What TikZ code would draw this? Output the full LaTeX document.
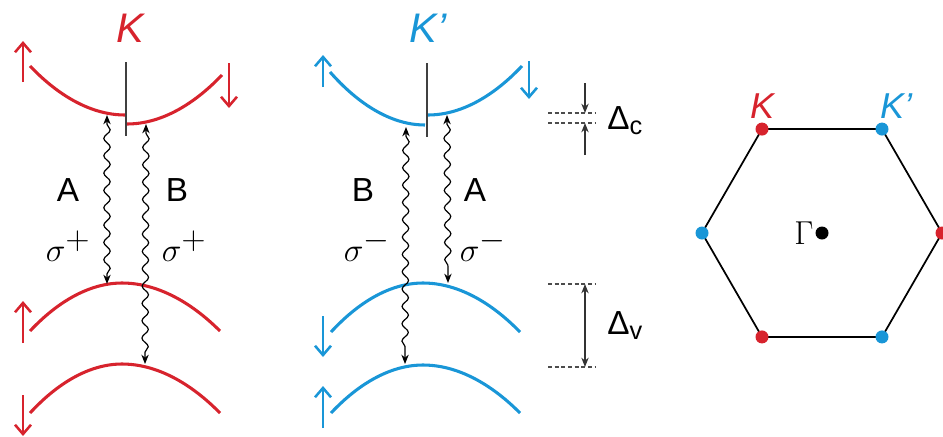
\documentclass[tikz,border=0pt]{standalone}
\usepackage[no-math]{fontspec}
\setmainfont{Liberation Sans}
\usetikzlibrary{arrows.meta,decorations.pathmorphing}
\definecolor{kred}{RGB}{215,35,45}
\definecolor{kblue}{RGB}{25,150,215}

\begin{document}
\begin{tikzpicture}[x=0.75pt,y=-0.75pt,
  band/.style={line width=2.3pt},
  spin/.style={line width=1.9pt,-{Straight Barb[length=7pt,width=12pt]}},
  wave/.style={line width=0.9pt,{Stealth[length=7pt,width=5.5pt]}-{Stealth[length=7pt,width=5.5pt]},
    decorate,decoration={snake,amplitude=2.4pt,segment length=13pt,pre length=7pt,post length=7pt}},
  gap/.style={line width=1pt,black!80},
  guide/.style={line width=0.8pt,black!70,dash pattern=on 3pt off 2pt},
  big/.style={font=\fontsize{25}{28}\selectfont},
  sig/.style={font=\fontsize{33}{38}\selectfont},
  valley/.style={font=\fontsize{31}{34}\selectfont\itshape},
  corner/.style={font=\fontsize{27}{30}\selectfont\itshape}]
  \useasboundingbox (0,0) rectangle (943,436);

  % K valley
  \draw[band,kred] (125,115) parabola (30,66);
  \draw[band,kred] (127,124) parabola (222,75);
  \draw[band,kred] (30,331) parabola bend (122,283) (220,331);
  \draw[band,kred] (30,413) parabola bend (122,364) (220,413);
  \draw[line width=1.1pt,black!75] (126,62) -- (126,136);
  \draw[spin,kred] (23,82) -- (23,41);
  \draw[spin,kred] (229,63) -- (229,108);
  \draw[spin,kred] (23,343) -- (23,301);
  \draw[spin,kred] (23,395) -- (23,436);
  \node[valley,text=kred] (Kred) at (130,28) {K};

  \coordinate (kAc) at (107,115);
  \coordinate (kAv) at (107,284);
  \coordinate (kBc) at (146,124);
  \coordinate (kBv) at (145,364);
  \draw[wave] (kAc) -- (kAv);
  \draw[wave] (kBc) -- (kBv);
  \node[big] (kA) at (68,190) {A};
  \node[big] (kB) at (177,190) {B};
  \node[sig] (kAs) at (68,246) {$\sigma^+$};
  \node[sig] (kBs) at (184,246) {$\sigma^+$};

  % K' valley
  \draw[band,kblue] (425,125) parabola (330,72);
  \draw[band,kblue] (428,115) parabola (522,66);
  \draw[band,kblue] (331,332) parabola bend (423,283) (520,332);
  \draw[band,kblue] (331,413) parabola bend (423,365) (520,413);
  \draw[line width=1.1pt,black!75] (427,63) -- (427,137);
  \draw[spin,kblue] (323,87) -- (323,55);
  \draw[spin,kblue] (529,61) -- (529,99);
  \draw[spin,kblue] (323,316) -- (323,357);
  \draw[spin,kblue] (323,428) -- (323,386);
  \node[valley,text=kblue] (Kblue) at (428,28) {K’};

  \coordinate (pBc) at (406,127);
  \coordinate (pBv) at (405,364);
  \coordinate (pAc) at (447,115);
  \coordinate (pAv) at (448,283);
  \draw[wave] (pBc) -- (pBv);
  \draw[wave] (pAc) -- (pAv);
  \node[big] (pB) at (363,190) {B};
  \node[big] (pA) at (475,190) {A};
  \node[sig] (pBs) at (367,246) {$\sigma^-$};
  \node[sig] (pAs) at (483,246) {$\sigma^-$};

  % splittings
  \draw[guide] (548,113) -- (596,113);
  \draw[guide] (548,123) -- (596,123);
  \coordinate (dct) at (585,83);
  \coordinate (dcb) at (585,155);
  \draw[gap,-{Stealth[length=7pt,width=5.5pt]}] (dct) -- (585,113);
  \draw[gap,-{Stealth[length=7pt,width=5.5pt]}] (dcb) -- (585,123);
  \node[big,anchor=base west,inner sep=0pt] (dc) at (607,129) {Δ\raisebox{-0.3ex}{\fontsize{19}{20}\selectfont c}};

  \draw[guide] (548,284) -- (596,284);
  \draw[guide] (548,367) -- (596,367);
  \coordinate (dvt) at (585,284);
  \coordinate (dvb) at (585,367);
  \draw[gap,{Stealth[length=7pt,width=5.5pt]}-{Stealth[length=7pt,width=5.5pt]}] (dvt) -- (dvb);
  \node[big,anchor=base west,inner sep=0pt] (dv) at (607,334) {Δ\raisebox{-0.3ex}{\fontsize{19}{20}\selectfont v}};

  % Brillouin zone
  \coordinate (G) at (822,233);
  \foreach \a in {0,60,...,300}
    \coordinate (h\a) at ([shift={(\a:120)}]G);
  \draw[line width=1.3pt] (h0) -- (h60) -- (h120) -- (h180) -- (h240) -- (h300) -- cycle;
  \foreach \a/\c in {0/kred,60/kblue,120/kred,180/kblue,240/kred,300/kblue}
    \fill[\c] (h\a) circle (6.5);
  \fill (G) circle (6.5);
  \node[font=\fontsize{27}{30}\selectfont] (Gam) at (804,233) {$\Gamma$};
  \node[corner,text=kred] (hK) at (762,106) {K};
  \node[corner,text=kblue] (hKp) at (896,106) {K’};
\end{tikzpicture}
\end{document}
